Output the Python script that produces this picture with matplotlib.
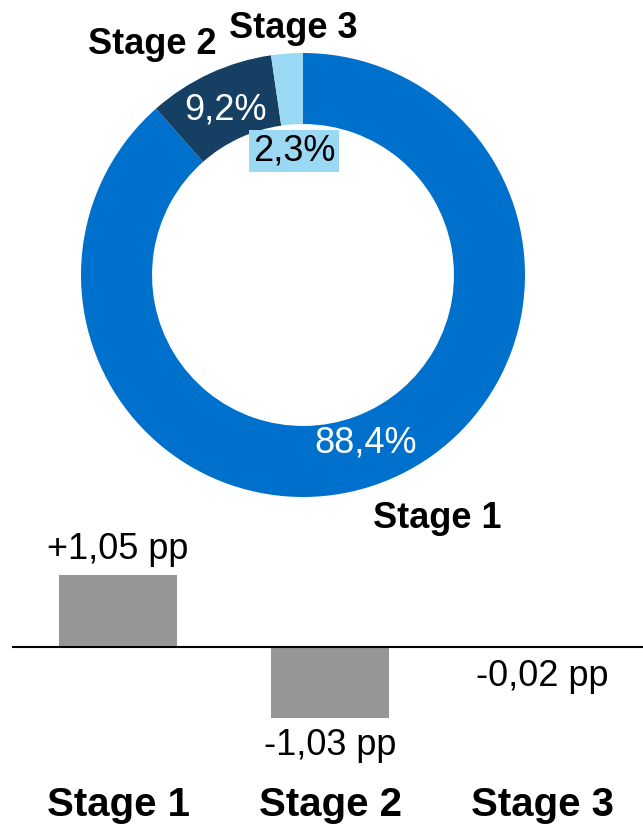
import matplotlib
matplotlib.use("Agg")
import matplotlib.pyplot as plt
from matplotlib.transforms import blended_transform_factory

plt.rcParams['font.family'] = ['Liberation Sans', 'DejaVu Sans']

# Data
stages = ["Stage 1", "Stage 2", "Stage 3"]
shares = [88.4, 9.2, 2.3]
share_labels = ["88,4%", "9,2%", "2,3%"]
changes = [1.05, -1.03, -0.02]
change_labels = ["+1,05 pp", "-1,03 pp", "-0,02 pp"]

colors = ["#0070CD", "#163F64", "#9BD8F4"]

W, H = 643, 827
fig = plt.figure(figsize=(W / 100, H / 100), dpi=100)

# Donut
cx, cy, r = 303, 275, 222
axd = fig.add_axes([(cx - r) / W, (H - cy - r) / H, 2 * r / W, 2 * r / H])
axd.pie(shares, colors=colors, startangle=90, counterclock=False,
        radius=1, wedgeprops=dict(width=0.32, linewidth=0))
axd.set_xlim(-1, 1)
axd.set_ylim(-1, 1)
axd.set_aspect('equal')
axd.axis('off')

def px(x, y):
    return ((x - cx) / r, (cy - y) / r)

pct_pos = [px(366, 443), px(225, 110), px(294, 151)]
name_pos = [px(437, 518), px(152, 45), px(293, 28)]
for i in range(3):
    x, y = pct_pos[i]
    if i < 2:
        axd.text(x, y, share_labels[i], color='white', fontsize=26,
                 ha='center', va='center')
    else:
        axd.text(x, y, share_labels[i], color='black', fontsize=26,
                 ha='center', va='center',
                 bbox=dict(boxstyle='square,pad=0.1', facecolor=colors[2],
                           edgecolor='none'))
    x, y = name_pos[i]
    axd.text(x, y, stages[i], color='black', fontsize=26, fontweight='bold',
             ha='center', va='center')

# Bars
axb = fig.add_axes([12 / W, (H - 770) / H, (W - 12) / W, 230 / H])
xs = list(range(len(stages)))
axb.bar(xs, changes, width=0.557, color='#969696')
axb.axhline(0, color='black', lw=1.5)
axb.set_xlim(-0.5, 2.476)
axb.set_ylim(-1.793, 1.56)
axb.axis('off')
for i, v in enumerate(changes):
    off = 25 if v > 0 else -28
    axb.annotate(change_labels[i], (xs[i], v), xytext=(0, off),
                 textcoords='offset pixels', ha='center', va='center',
                 fontsize=26)
trans = blended_transform_factory(axb.transData, fig.transFigure)
for i, s in enumerate(stages):
    axb.text(xs[i], (H - 805) / H, s, transform=trans, ha='center',
             va='center', fontsize=29, fontweight='bold')

fig.savefig("out.png", dpi=100)
